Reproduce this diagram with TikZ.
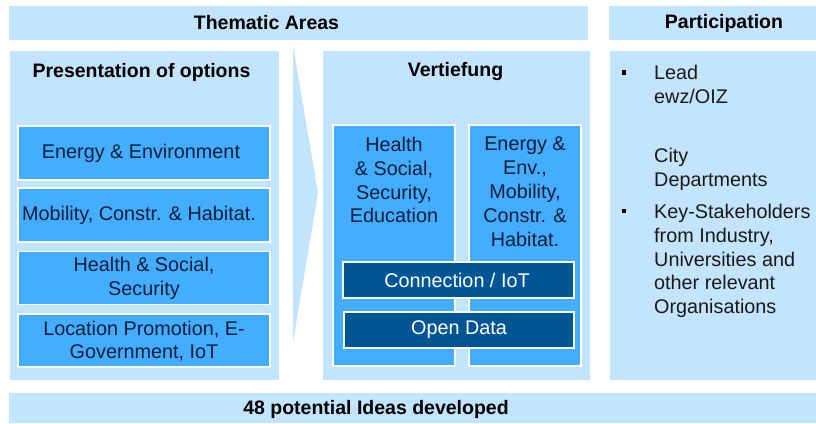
\documentclass[tikz,border=0pt]{standalone}
\usepackage{fontspec}
\setmainfont{Liberation Sans}
\definecolor{lightc}{HTML}{C3E4FD}
\definecolor{medc}{HTML}{45ADFF}
\definecolor{darkc}{HTML}{005694}
\definecolor{navytext}{HTML}{0B1E3A}
\tikzset{
  panel/.style={fill=lightc, draw=none, inner sep=0pt, rectangle},
  medbox/.style={fill=medc, draw=white, line width=1.5pt, inner sep=0pt, rectangle},
  darkbox/.style={fill=darkc, draw=white, line width=1.5pt, inner sep=0pt, rectangle},
  hdr/.style={font=\fontsize{19.5}{23.8}\selectfont\bfseries, text=black, inner sep=0pt},
  lbl/.style={font=\fontsize{19.8}{23.8}\selectfont, text=navytext, align=center, inner sep=0pt},
  wlbl/.style={font=\fontsize{19.8}{23.8}\selectfont, text=white, align=center, inner sep=0pt},
  plbl/.style={font=\fontsize{19.8}{23.8}\selectfont, text=black!90, align=left, inner sep=0pt, anchor=north west},
  bul/.style={fill=black, draw=none, minimum size=4.6pt, inner sep=0pt, rectangle},
}
\begin{document}
\begin{tikzpicture}[x=1pt,y=-1pt]
\useasboundingbox (0,0) rectangle (816,423);
% headers
\node[panel, minimum width=579pt, minimum height=34pt] (hthem) at (298.5,23) {};
\node[panel, minimum width=207pt, minimum height=34pt] (hpart) at (712.5,23) {};
\node[hdr] (thtext) at (266.5,23) {Thematic Areas};
\node[hdr] (pttext) at (724,23) {Participation};
% panels
\node[panel, minimum width=269pt, minimum height=329pt] (pleft) at (144.5,215.5) {};
\node[panel, minimum width=267pt, minimum height=329pt] (pmid) at (456.5,215.5) {};
\node[panel, minimum width=206pt, minimum height=329pt] (pright) at (713,215.5) {};
\node[panel, minimum width=807pt, minimum height=30pt] (pbottom) at (412.5,408) {};
% chevron
\coordinate (cva) at (293,45);
\coordinate (cvb) at (318,193);
\coordinate (cvc) at (293,342);
\fill[lightc] (cva) -- (cvb) -- (cvc) -- cycle;
% panel titles
\node[hdr] (tleft) at (141.5,72) {Presentation of options};
\node[hdr] (tmid) at (455.5,72) {Vertiefung};
\node[hdr] (tbottom) at (376,409) {48 potential Ideas developed};
% left boxes
\node[medbox, minimum width=252pt, minimum height=54pt] (b1) at (144,153) {};
\node[lbl] (b1t) at (141,153.5) {Energy \& Environment};
\node[medbox, minimum width=252pt, minimum height=54pt] (b2) at (144,215) {};
\node[lbl] (b2t) at (139,215.5) {Mobility, Constr. \& Habitat.};
\node[medbox, minimum width=252pt, minimum height=53pt] (b3) at (144,278) {};
\node[lbl] (b3t) at (144,278.5) {Health \& Social,\\Security};
\node[medbox, minimum width=252pt, minimum height=53pt] (b4) at (144,340.5) {};
\node[lbl] (b4t) at (144,341) {Location Promotion, E-\\Government, IoT};
% middle boxes
\node[medbox, minimum width=122pt, minimum height=241pt] (m1) at (394,245.5) {};
\node[medbox, minimum width=112pt, minimum height=241pt] (m2) at (525,245.5) {};
\node[lbl, anchor=north] (m1t) at (394,137) {Health\\\& Social,\\Security,\\Education};
\node[lbl, anchor=north] (m2t) at (525,137) {Energy \&\\Env.,\\Mobility,\\Constr. \&\\Habitat.};
\node[darkbox, minimum width=231pt, minimum height=36pt] (d1) at (458.5,280) {};
\node[wlbl] (d1t) at (457,280) {Connection / IoT};
\node[darkbox, minimum width=230pt, minimum height=36pt] (d2) at (459,330) {};
\node[wlbl] (d2t) at (459,330) {Open Data};
% participation list
\node[bul] (bu1) at (624,72.5) {};
\node[bul] (bu2) at (624,211) {};
\node[plbl] (pl1) at (654,65) {Lead\\ewz/OIZ};
\node[plbl] (pl2) at (654,148) {City\\Departments};
\node[plbl] (pl3) at (654,204) {Key-Stakeholders\\from Industry,\\Universities and\\other relevant\\Organisations};
\end{tikzpicture}
\end{document}
